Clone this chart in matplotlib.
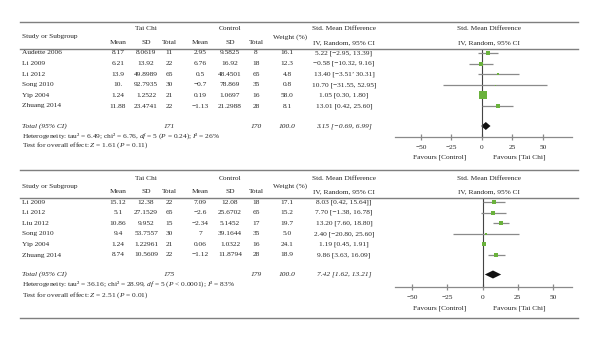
import matplotlib
matplotlib.use("Agg")
import matplotlib.pyplot as plt

plt.rcParams['font.family'] = ['Liberation Serif', 'DejaVu Serif']
plt.rcParams['mathtext.fontset'] = 'custom'
plt.rcParams['mathtext.rm'] = 'Liberation Serif'
plt.rcParams['mathtext.it'] = 'Liberation Serif:italic'
plt.rcParams['axes.unicode_minus'] = True

# ---------------- data: panel 1 ----------------
studies1 = ["Audette 2006", "Li 2009", "Li 2012", "Song 2010", "Yip 2004", "Zhuang 2014"]
tc_mean1 = ["8.17", "6.21", "13.9", "10.", "1.24", "11.88"]
tc_sd1 = ["8.0619", "13.92", "49.8989", "92.7935", "1.2522", "23.4741"]
tc_n1 = ["11", "22", "65", "30", "21", "22"]
ct_mean1 = ["2.95", "6.76", "0.5", "\u22120.7", "0.19", "\u22121.13"]
ct_sd1 = ["9.5825", "16.92", "48.4501", "78.869", "1.0697", "21.2988"]
ct_n1 = ["8", "18", "65", "35", "16", "28"]
weight1 = [16.1, 12.3, 4.8, 0.8, 58.0, 8.1]
smd1 = [5.22, -0.58, 13.40, 10.70, 1.05, 13.01]
lo1 = [-2.95, -10.32, -3.51, -31.55, 0.30, 0.42]
hi1 = [13.39, 9.16, 30.31, 52.95, 1.80, 25.60]
smd_txt1 = ["5.22 [\u22122.95, 13.39]", "\u22120.58 [\u221210.32, 9.16]",
            "13.40 [\u22123.51\u2019 30.31]", "10.70 [\u221231.55, 52.95]",
            "1.05 [0.30, 1.80]", "13.01 [0.42, 25.60]"]
total1 = ("171", "170", "100.0")
pooled1 = (3.15, -0.69, 6.99)
pooled_txt1 = "3.15 [\u22120.69, 6.99]"
het1 = r"Heterogeneity: tau² = 6.49; chi² = 6.76, $df$ = 5 ($P$ = 0.24); $I$² = 26%"
test1 = r"Test for overall effect: $Z$ = 1.61 ($P$ = 0.11)"

# ---------------- data: panel 2 ----------------
studies2 = ["Li 2009", "Li 2012", "Liu 2012", "Song 2010", "Yip 2004", "Zhuang 2014"]
tc_mean2 = ["15.12", "5.1", "10.86", "9.4", "1.24", "8.74"]
tc_sd2 = ["12.38", "27.1529", "9.952", "53.7557", "1.22961", "10.5609"]
tc_n2 = ["22", "65", "15", "30", "21", "22"]
ct_mean2 = ["7.09", "\u22122.6", "\u22122.34", "7", "0.06", "\u22121.12"]
ct_sd2 = ["12.08", "25.6702", "5.1452", "39.1644", "1.0322", "11.8794"]
ct_n2 = ["18", "65", "17", "35", "16", "28"]
weight2 = [17.1, 15.2, 19.7, 5.0, 24.1, 18.9]
smd2 = [8.03, 7.70, 13.20, 2.40, 1.19, 9.86]
lo2 = [0.42, -1.38, 7.60, -20.80, 0.45, 3.63]
hi2 = [15.64, 16.78, 18.80, 25.60, 1.91, 16.09]
smd_txt2 = ["8.03 [0.42, 15.64]]", "7.70 [\u22121.38, 16.78]", "13.20 [7.60, 18.80]",
            "2.40 [\u221220.80, 25.60]", "1.19 [0.45, 1.91]", "9.86 [3.63, 16.09]"]
total2 = ("175", "179", "100.0")
pooled2 = (7.42, 1.62, 13.21)
pooled_txt2 = "7.42 [1.62, 13.21]"
het2 = r"Heterogeneity: tau² = 36.16; chi² = 28.99, $df$ = 5 ($P$ < 0.0001); $I$² = 83%"
test2 = r"Test for overall effect: $Z$ = 2.51 ($P$ = 0.01)"

xticks = [-50, -25, 0, 25, 50]

# ---------------- styling ----------------
W, H = 600, 340
FS = 5.35
TC = "#262626"
RULE = "#7f7f7f"
GREEN = "#6ab23c"
CIC = "#8a8a8a"

fig = plt.figure(figsize=(W / 100, H / 100), dpi=100)


def T(x, y, s, ha='center', **kw):
    fig.text(x / W, 1 - y / H, s, ha=ha, va='center', fontsize=FS, color=TC, **kw)


def hline(y, x0=20, x1=578):
    fig.add_artist(plt.Line2D([x0 / W, x1 / W], [1 - y / H, 1 - y / H],
                              color=RULE, lw=1.0, transform=fig.transFigure))


cols = dict(tcm=118, tcs=146, tcn=169, ctm=200, cts=230, ctn=256, w=287, smd=344)


def panel(ytop, yh1, yh2, yline, row0, dy, ytot, yhet, ytest, yaxis, yfav,
          studies, tcm, tcs, tcn, ctm, cts, ctn, weight, smd, lo, hi, smd_txt,
          total, pooled, pooled_txt, het, test, xlim, msc, bottom_rule=None):
    hline(ytop)
    hline(yline)
    if bottom_rule:
        hline(bottom_rule)
    # headers
    T(22, (yh1 + yh2) / 2 + 1, "Study or Subgroup", ha='left')
    T(cols['tcs'], yh1, "Tai Chi")
    T(cols['cts'], yh1, "Control")
    T(cols['w'] + 3, (yh1 + yh2) / 2 + 1, "Weight (%)")
    T(cols['smd'], yh1, "Std. Mean Difference")
    T(cols['smd'], yh2, "IV, Random, 95% CI")
    T(489, yh1, "Std. Mean Difference")
    T(489, yh2, "IV, Random, 95% CI")
    for k, lab in zip(['tcm', 'tcs', 'tcn', 'ctm', 'cts', 'ctn'],
                      ["Mean", "SD", "Total", "Mean", "SD", "Total"]):
        T(cols[k], yh2, lab)
    # rows
    for i, s in enumerate(studies):
        y = row0 + i * dy
        T(22, y, s, ha='left')
        T(cols['tcm'], y, tcm[i]); T(cols['tcs'], y, tcs[i]); T(cols['tcn'], y, tcn[i])
        T(cols['ctm'], y, ctm[i]); T(cols['cts'], y, cts[i]); T(cols['ctn'], y, ctn[i])
        T(cols['w'], y, f"{weight[i]:.1f}")
        T(cols['smd'], y, smd_txt[i])
    T(22, ytot, "Total (95% CI)", ha='left', style='italic')
    T(cols['tcn'], ytot, total[0], style='italic')
    T(cols['ctn'], ytot, total[1], style='italic')
    T(cols['w'], ytot, total[2], style='italic')
    T(cols['smd'], ytot, pooled_txt, style='italic')
    T(22, yhet, het, ha='left')
    T(22, ytest, test, ha='left')

    # forest axes (pixel y as row positions)
    x0, x1 = 395, 572
    ax = fig.add_axes([x0 / W, 1 - yaxis / H, (x1 - x0) / W, (yaxis - yline) / H])
    ax.set_xlim(*xlim)
    ax.set_ylim(yaxis, yline)
    ax.set_facecolor('none')
    for sp in ['top', 'left', 'right']:
        ax.spines[sp].set_visible(False)
    ax.spines['bottom'].set_color(CIC)
    ax.spines['bottom'].set_linewidth(0.9)
    ax.set_yticks([])
    ax.set_xticks(xticks)
    ax.set_xticklabels([f"{t}".replace('-', '\u2212') for t in xticks])
    ax.tick_params(axis='x', direction='inout', length=5, width=0.9, color=CIC,
                   labelsize=FS, labelcolor=TC, pad=3.5)
    ax.axvline(0, color="#444444", lw=0.8)
    wmax = max(weight)
    for i in range(len(studies)):
        y = row0 + i * dy
        ax.plot([lo[i], hi[i]], [y, y], color=CIC, lw=0.9, solid_capstyle='butt')
        ax.plot(smd[i], y, marker='s', ms=msc * (weight[i] / wmax) ** 0.5,
                color=GREEN, mec=GREEN, mew=0, ls='none')
    est, plo, phi = pooled
    h = 4.0
    ax.fill([plo, est, phi, est], [ytot, ytot - h, ytot, ytot + h],
            color='#111111', lw=0)
    T(440, yfav, "Favours [Control]")
    T(519, yfav, "Favours [Tai Chi]")


panel(22, 29, 42.5, 49, 53, 10.6, 126, 136, 145.5, 137, 157.5,
      studies1, tc_mean1, tc_sd1, tc_n1, ct_mean1, ct_sd1, ct_n1, weight1,
      smd1, lo1, hi1, smd_txt1, total1, pooled1, pooled_txt1, het1, test1,
      (-71.3, 73.8), 6.0)

panel(170, 179, 191.5, 198, 202, 10.6, 274.5, 284.5, 295, 287, 308,
      studies2, tc_mean2, tc_sd2, tc_n2, ct_mean2, ct_sd2, ct_n2, weight2,
      smd2, lo2, hi2, smd_txt2, total2, pooled2, pooled_txt2, het2, test2,
      (-62, 63.4), 3.2, bottom_rule=318)

fig.savefig("out.png", dpi=100)
